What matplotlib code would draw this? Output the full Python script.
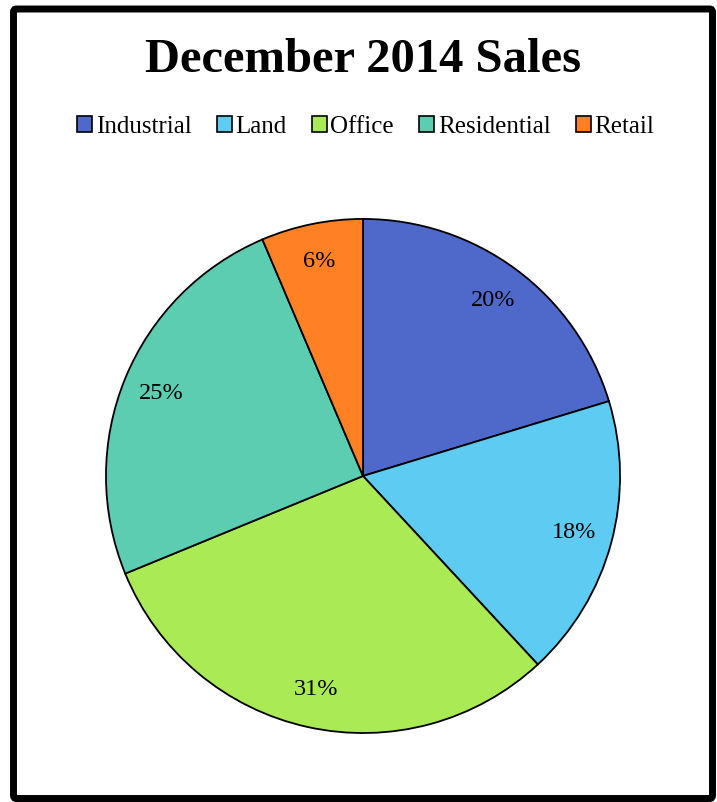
import matplotlib
matplotlib.use("Agg")
import matplotlib.pyplot as plt
from matplotlib.patches import Patch, FancyBboxPatch

# Datos
categorias = ["Industrial", "Land", "Office", "Residential", "Retail"]
valores = [20.3, 17.8, 30.7, 24.8, 6.4]
colores = ["#4F69CA", "#5ECCF2", "#AAEA55", "#5DCDB1", "#FF8124"]

plt.rcParams['font.family'] = ['Liberation Serif', 'DejaVu Serif']

fig = plt.figure(figsize=(7.17, 8.02), dpi=100)

# Marco negro alrededor del grafico
marco = FancyBboxPatch((13.5/717, 3.5/802), (712.5-13.5)/717, (793-3.5)/802,
                       boxstyle="round,pad=0,rounding_size=0.004",
                       transform=fig.transFigure, fill=False,
                       edgecolor="black", linewidth=5)
fig.patches.append(marco)

ax = fig.add_axes([0.1478, 0.086, 0.717, 0.641])
ax.pie(valores, colors=colores, startangle=90, counterclock=False,
       autopct='%1.0f%%', pctdistance=0.85,
       wedgeprops={'edgecolor': 'black', 'linewidth': 1.3},
       textprops={'fontsize': 17.5})
ax.set_xlim(-1, 1)
ax.set_ylim(-1, 1)
ax.set_aspect('equal')

fig.text(0.506, 1 - 60/802, "December 2014 Sales", ha='center', va='center',
         fontsize=35, fontweight='bold')

manijas = [Patch(facecolor=c, edgecolor='black', linewidth=1.2) for c in colores]
fig.legend(manijas, categorias, loc='center', bbox_to_anchor=(0.51, 1 - 127/802),
           ncol=5, frameon=False, fontsize=18, handlelength=0.6, handleheight=0.6,
           handletextpad=0.15, columnspacing=1.0)

plt.savefig("out.png", dpi=100)
plt.close()
